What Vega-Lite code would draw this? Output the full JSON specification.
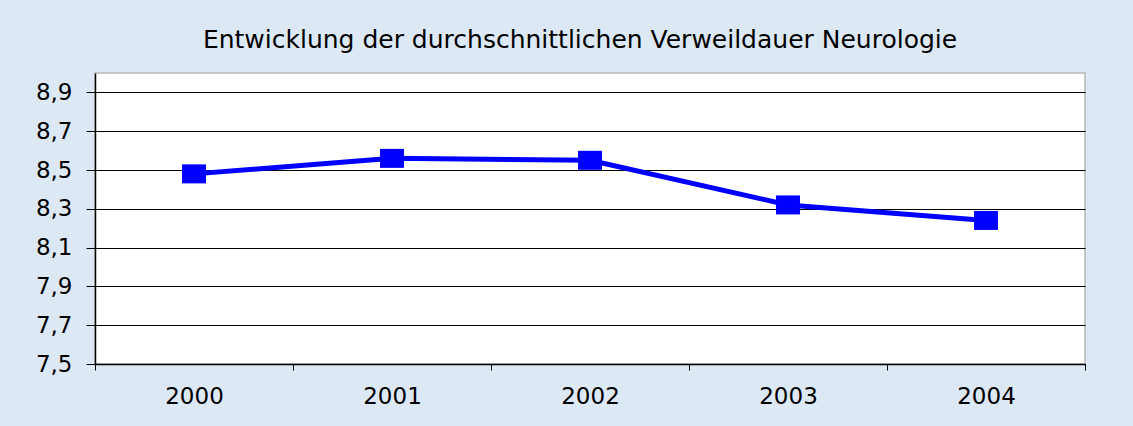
{
  "$schema": "https://vega.github.io/schema/vega-lite/v6.json",
  "width": 990,
  "height": 291,
  "autosize": {"type": "none"},
  "padding": {"left": 95, "top": 73, "right": 48, "bottom": 62},
  "background": "#dde8f5",
  "title": {
    "text": "Entwicklung der durchschnittlichen Verweildauer Neurologie",
    "font": "DejaVu Sans",
    "fontSize": 25,
    "fontWeight": "normal",
    "color": "#000000",
    "anchor": "middle",
    "dx": -10,
    "offset": 20
  },
  "data": {
    "values": [
      {"Jahr": "2000", "Verweildauer": 8.48},
      {"Jahr": "2001", "Verweildauer": 8.56},
      {"Jahr": "2002", "Verweildauer": 8.55},
      {"Jahr": "2003", "Verweildauer": 8.32},
      {"Jahr": "2004", "Verweildauer": 8.24}
    ]
  },
  "config": {
    "view": {"fill": "#ffffff", "stroke": "#b8b8b8", "strokeWidth": 1.5},
    "axis": {
      "labelFont": "DejaVu Sans",
      "labelFontSize": 23,
      "labelColor": "#000000",
      "domainColor": "#000000",
      "tickColor": "#000000",
      "title": null
    }
  },
  "encoding": {
    "x": {
      "field": "Jahr",
      "type": "ordinal",
      "scale": {"type": "band", "paddingInner": 0, "paddingOuter": 0},
      "axis": {
        "labelAngle": 0,
        "tickBand": "extent",
        "tickSize": 6,
        "labelPadding": 15,
        "grid": false,
        "domainWidth": 1.5
      }
    },
    "y": {
      "field": "Verweildauer",
      "type": "quantitative",
      "scale": {"domain": [7.5, 9.0], "nice": false, "zero": false},
      "axis": {
        "values": [7.5, 7.7, 7.9, 8.1, 8.3, 8.5, 8.7, 8.9],
        "labelExpr": "replace(format(datum.value, '.1f'), '.', ',')",
        "tickSize": 9,
        "labelPadding": 14,
        "grid": true,
        "gridColor": "#000000",
        "gridOpacity": 1,
        "gridWidth": 1.2,
        "domainWidth": 1.5
      }
    }
  },
  "layer": [
    {
      "mark": {"type": "line", "color": "#0000ff", "strokeWidth": 5}
    },
    {
      "mark": {
        "type": "point",
        "shape": "M-1.26,-1H1.26V1H-1.26Z",
        "size": 361,
        "filled": true,
        "color": "#0000ff",
        "opacity": 1
      }
    }
  ]
}
